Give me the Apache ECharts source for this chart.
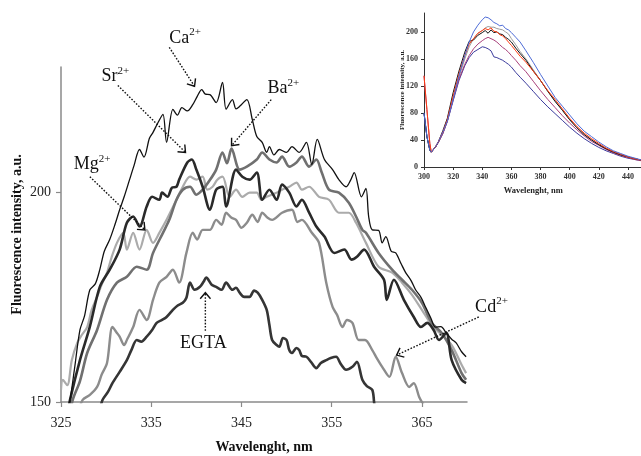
<!DOCTYPE html>
<html>
<head>
<meta charset="utf-8">
<script src="https://cdn.jsdelivr.net/npm/echarts@6/dist/echarts.min.js"></script>
<style>
html,body{margin:0;padding:0;background:#fff}
#chart{width:641px;height:456px}
</style>
</head>
<body>
<div id="chart"></div>
<script>
// ---- Main panel: emission spectra 325–370 nm, [wavelength, intensity] ----
const caSpectrum = [[325.5,146],[326.0,150.5],[326.5,158],[327.1,167.2],[327.6,170.5],[328.2,176.8],[328.8,178.2],[329.3,181.6],[329.8,186],[330.4,188.8],[331.0,192.5],[331.5,195.9],[332.0,199],[332.6,203.1],[333.1,206.5],[333.7,210.3],[334.2,208.5],[334.8,213],[335.2,214.4],[335.7,216.5],[336.3,218.7],[336.7,212],[337.4,219.9],[337.9,218.5],[338.4,220.3],[339.0,219.5],[339.6,221],[340.1,223],[340.6,224.6],[341.0,223.5],[341.5,223.4],[342.2,221.5],[342.9,226.3],[343.3,219.9],[344.0,222.2],[344.4,220],[344.8,220.6],[345.6,222.2],[346.2,217.5],[346.7,213.4],[347.3,212],[347.8,209.6],[348.1,211],[348.6,209],[349.2,210.3],[350.0,209.6],[350.6,211],[351.4,209.6],[352.2,212],[352.8,206.7],[353.4,212.7],[354.2,207.9],[355.1,205.5],[355.8,203.1],[356.6,201.4],[357.1,203],[357.5,204.8],[358.3,199],[358.8,201],[359.1,194.3],[359.5,191.1],[360.2,191],[360.6,188],[361.0,189.5],[361.6,186],[362.1,185.6],[362.7,183],[363.2,180.9],[363.8,179],[364.3,176.8],[364.9,175],[365.4,172.7],[366.0,170],[366.5,167.9],[367.1,168],[367.7,166.5],[368.3,165],[368.8,164.1],[369.4,162],[369.9,160.8]];

const srSpectrum = [[325.6,146],[326.0,150.5],[327.1,160],[328.2,168],[329.3,177.5],[330.4,181.6],[331.5,186.4],[332.3,192.8],[333.0,194.3],[333.7,191.9],[334.5,196.7],[335.1,199],[335.9,198.3],[336.2,200],[336.8,199],[337.3,201.2],[337.8,201.4],[338.1,203.1],[339.0,207.2],[339.5,207.9],[340.0,205.5],[340.7,201.4],[341.5,195.9],[342.2,200.7],[342.9,201.4],[343.3,196.7],[344.4,205.5],[345.1,203.8],[345.9,203.1],[346.7,204.8],[347.3,198.3],[348.1,200.7],[348.9,198.3],[349.5,201.9],[350.3,200],[351.1,196.7],[351.7,198.3],[352.5,195.2],[353.3,191.9],[354.2,189.5],[355.3,185.6],[356.4,186.4],[357.2,184],[357.8,184.7],[358.6,186.4],[359.7,182.3],[360.8,179.2],[361.1,174.4],[361.9,179.2],[363.0,174.4],[364.1,170.3],[364.9,167.9],[365.6,168.9],[366.3,167.2],[366.9,164.8],[367.7,166.5],[368.3,160],[369.4,155.3],[369.9,154.5]];

const baSpectrum = [[325.9,146],[326.3,150.5],[327.1,155],[327.9,161.7],[329.0,167.2],[330.1,174.4],[331.2,178.5],[332.3,179.9],[333.4,182.3],[334.5,181.6],[335.2,185.6],[336.3,190.4],[337.0,193.5],[337.8,198.3],[338.5,200.7],[339.3,201.4],[340.0,199.5],[340.7,200.7],[341.5,203],[342.2,205.5],[342.9,209.6],[343.4,207],[343.9,210.5],[344.8,205.5],[345.6,206.2],[346.7,207.9],[347.3,209.6],[348.1,207.9],[348.9,207.2],[349.5,208.6],[350.3,206.2],[351.1,207.2],[351.7,208.6],[352.5,206.2],[353.3,207.9],[353.9,204.8],[354.7,200.7],[355.8,200],[356.9,197.6],[357.7,194.3],[358.4,191.1],[358.8,190.4],[360.2,185.6],[361.7,181.6],[362.8,179.2],[363.9,176.8],[365.0,173.7],[366.1,168.9],[367.2,166.5],[368.3,162.4],[369.4,156.9],[369.9,155.3]];

const mgSpectrum = [[325.0,152.9],[325.2,155.3],[325.7,154],[326.2,160],[326.8,164.1],[327.3,166],[327.9,167.9],[328.4,172],[329.0,175.1],[329.5,178],[330.1,180.9],[330.6,184.5],[331.2,188],[331.9,190.4],[332.3,186.4],[333.0,190.4],[333.7,186.4],[334.5,191.1],[335.2,188],[335.9,190.4],[336.7,193.5],[337.8,198.3],[338.5,201.4],[339.3,203.8],[340.0,203.1],[340.7,203.8],[341.2,200.7],[341.8,201.4],[342.3,203],[342.9,203.8],[343.7,199],[344.4,200.7],[345.1,199],[345.9,200],[346.7,200],[347.2,198.3],[347.8,199],[348.9,200],[349.5,200.7],[350.3,201.4],[351.1,202.4],[351.7,200.7],[352.5,201.4],[353.6,199],[354.7,198.3],[355.8,195.2],[356.9,195.2],[357.7,192.8],[358.8,188],[360.2,182.3],[361.7,180.9],[362.8,178.5],[363.9,175.6],[365.0,172],[366.1,168.4],[367.2,166],[368.3,163.6],[369.4,158.9],[369.9,156.9]];

const cdSpectrum = [[327.0,148],[327.4,150.5],[328.2,151.7],[329.0,153.6],[329.5,156.5],[330.1,159.3],[330.7,167.9],[331.2,166.5],[331.5,165.6],[332.0,163.6],[332.3,164.8],[333.0,167.9],[333.7,172],[334.5,169.6],[335.2,174.4],[335.9,178.5],[336.7,179.9],[337.4,181.6],[338.1,178.5],[338.9,185.6],[339.6,190.4],[340.1,188.8],[340.7,191.1],[341.5,191.1],[342.2,193.5],[342.8,192.3],[343.3,195.2],[343.9,194],[344.4,193.5],[345.0,191.6],[345.6,192.8],[346.2,194.7],[346.8,193],[347.3,195.2],[347.9,194],[348.4,193.5],[349.5,195.2],[350.6,195.9],[351.2,193],[351.7,193.5],[352.8,190.4],[353.6,188],[354.4,178.5],[355.1,172.7],[355.6,170.8],[356.2,167.9],[356.7,169.6],[357.3,168.9],[358.0,164.8],[358.7,164.8],[359.5,162.4],[360.0,160.5],[360.6,158.4],[361.4,156],[362.1,160.8],[362.8,156.9],[363.6,153.6],[364.1,154.5],[364.7,151.2],[365.0,150],[365.3,149]];

const egtaSpectrum = [[329.3,148],[329.6,150.5],[330.2,152.4],[330.7,154.5],[331.5,157.2],[332.3,160],[332.8,162.4],[333.4,164.8],[333.9,164.4],[334.5,165.6],[335.1,167.2],[335.6,168.9],[336.2,169.6],[336.7,170.3],[337.4,172],[337.9,173],[338.5,173.7],[338.9,174.9],[339.3,178.5],[339.8,176.8],[340.4,177.5],[340.8,178.7],[341.1,179.7],[341.7,178],[342.2,177.5],[342.8,176.8],[343.3,178.5],[344.0,176.8],[344.4,177.3],[344.8,176.1],[345.3,175.1],[345.9,175.1],[346.4,176.6],[346.8,176.1],[347.3,174.4],[347.8,172],[348.1,168.4],[348.4,164.8],[348.9,163.6],[349.2,163.2],[349.6,165.3],[350.0,164.8],[350.3,162.4],[350.6,161.7],[351.1,162.9],[351.4,162.4],[351.7,161],[352.2,160.8],[352.7,159.6],[353.3,158.1],[353.8,159.3],[354.4,160],[354.9,160.5],[355.5,160.8],[356.0,159.1],[356.6,157.7],[357.3,158.4],[357.8,159.6],[358.4,155.3],[358.9,153.8],[359.5,152.9],[359.7,150],[359.8,148]];

const mainXTicks = [325, 335, 345, 355, 365];
const mainYTicks = [150, 200];

// ---- Inset: full spectra 300–450 nm ----
const insetX = [300,302,304,305,306,308,310,313,316,320,324,328,331,334,337,340,342,344,346,348,350,352,354,356,358,360,363,366,370,375,380,385,390,395,400,405,410,415,420,425,430,435,440,445,450];
const insetBlue    = [80,45,25,22,24,30,38,52,68,100,135,165,185,200,210,218,222,221,218,214,212,209,210,205,203,199,192,185,172,155,137,120,103,90,77,64,53,45,37,30,24,20,16,13,10];
const insetRed     = [135,85,35,22,24,30,38,52,70,105,138,165,182,190,198,202,205,203,206,201,200,196,194,190,185,180,172,164,155,142,128,113,100,86,72,60,50,42,35,28,23,19,15,12,10];
const insetBlack   = [80,45,25,22,24,30,38,54,72,110,142,170,186,188,195,199,202,198,203,199,200,197,196,192,189,185,176,168,158,142,128,112,97,84,70,58,48,40,33,27,22,18,15,12,10];
const insetGray    = [80,45,25,22,24,30,37,50,68,100,133,160,178,190,198,202,206,208,207,207,205,204,203,200,197,190,181,171,160,144,128,112,98,84,70,58,48,40,33,27,22,18,15,12,10];
const insetMagenta = [135,85,35,22,24,30,37,50,68,100,130,152,165,175,182,187,190,192,190,188,185,181,177,174,170,165,158,150,141,127,113,100,88,76,65,55,46,38,32,26,21,17,14,11,9];
const insetNavy    = [80,45,25,22,24,30,37,50,67,98,128,150,162,170,174,178,177,175,172,163,162,160,158,155,152,148,140,133,124,112,100,89,79,69,59,50,42,35,29,24,20,16,13,11,9];
const insetXTicks = [300, 320, 340, 360, 380, 400, 420, 440];
const insetYTicks = [0, 40, 80, 120, 160, 200];

// ---- Annotations (data coordinates of the main panel) ----
const notes = [
  {name: 'Ca',   sup: '2+', at: [337.0, 236.9], from: [337.0, 234.7], to: [339.8, 225.4]},
  {name: 'Sr',   sup: '2+', at: [329.5, 227.8], from: [331.3, 225.6], to: [338.8, 209.6]},
  {name: 'Ba',   sup: '2+', at: [347.9, 224.9], from: [348.3, 222.2], to: [343.9, 211.2]},
  {name: 'Mg',   sup: '2+', at: [326.4, 206.7], from: [328.2, 203.8], to: [334.3, 191.1]},
  {name: 'EGTA', sup: '',   at: [338.2, 164.1], from: [341.0, 167.0], to: [341.0, 176.1]},
  {name: 'Cd',   sup: '2+', at: [370.9, 172.7], from: [371.3, 170.3], to: [362.2, 161.2]}
];

const serif = "'Liberation Serif','Times New Roman',serif";
const chart = echarts.init(document.getElementById('chart'), null, {renderer: 'canvas'});

function zip(xs, ys) { return xs.map((x, i) => [x, ys[i]]); }

function mainLine(name, data, color, width) {
  return {name, type: 'line', xAxisIndex: 0, yAxisIndex: 0, data, symbol: 'none', smooth: 0.3,
          lineStyle: {color, width, join: 'round'}, clip: true, animation: false, silent: true};
}
function insetLine(name, ys, color) {
  return {name, type: 'line', xAxisIndex: 1, yAxisIndex: 1, data: zip(insetX, ys), symbol: 'none',
          lineStyle: {color, width: 1}, clip: true, animation: false, silent: true};
}

const axisGray = '#8a8a8a';

chart.setOption({
  backgroundColor: '#ffffff',
  animation: false,
  grid: [
    {left: 61, top: 67, width: 406, height: 335, outerBoundsMode: 'none', containLabel: false},
    {left: 424, top: 13, width: 218.5, height: 154, outerBoundsMode: 'none', containLabel: false}
  ],
  xAxis: [
    {type: 'value', gridIndex: 0, min: 325, max: 370,
     axisLine: {lineStyle: {color: axisGray, width: 1.5}},
     axisTick: {show: true, length: 5, customValues: mainXTicks, lineStyle: {color: axisGray, width: 1.2}},
     axisLabel: {customValues: mainXTicks, fontFamily: serif, fontSize: 14, color: '#222', margin: 14},
     splitLine: {show: false},
     name: 'Wavelenght, nm', nameLocation: 'middle', nameGap: 38, nameMoveOverlap: false,
     nameTextStyle: {fontFamily: serif, fontSize: 14, fontWeight: 'bold', color: '#111'}},
    {type: 'value', gridIndex: 1, min: 300, max: 450,
     axisLine: {lineStyle: {color: '#333', width: 1}},
     axisTick: {show: true, length: 3, customValues: insetXTicks, lineStyle: {color: '#333'}},
     axisLabel: {customValues: insetXTicks, fontFamily: serif, fontSize: 8, fontWeight: 'bold', color: '#333', margin: 6},
     splitLine: {show: false},
     name: 'Wavelenght, nm', nameLocation: 'middle', nameGap: 19, nameMoveOverlap: false,
     nameTextStyle: {fontFamily: serif, fontSize: 8.5, fontWeight: 'bold', color: '#222'}}
  ],
  yAxis: [
    {type: 'value', gridIndex: 0, min: 150, max: 230,
     axisLine: {show: true, lineStyle: {color: axisGray, width: 1.5}},
     axisTick: {show: true, length: 5, customValues: mainYTicks, lineStyle: {color: axisGray, width: 1.2}},
     axisLabel: {customValues: mainYTicks, fontFamily: serif, fontSize: 14, color: '#222', margin: 10},
     splitLine: {show: false},
     name: 'Fluorescence intensity, a.u.', nameLocation: 'middle', nameGap: 37, nameMoveOverlap: false,
     nameTextStyle: {fontFamily: serif, fontSize: 14, fontWeight: 'bold', color: '#111'}},
    {type: 'value', gridIndex: 1, min: 0, max: 228,
     axisLine: {show: true, lineStyle: {color: '#333', width: 1}},
     axisTick: {show: true, length: 3, customValues: insetYTicks, lineStyle: {color: '#333'}},
     axisLabel: {customValues: insetYTicks, fontFamily: serif, fontSize: 8, fontWeight: 'bold', color: '#333', margin: 6},
     splitLine: {show: false},
     name: 'Fluorescence intensity, a.u.', nameLocation: 'middle', nameGap: 18, nameMoveOverlap: false,
     nameTextStyle: {fontFamily: serif, fontSize: 7, fontWeight: 'bold', color: '#222'}}
  ],
  series: [
    mainLine('Mg2+', mgSpectrum, '#ababab', 2.2),
    mainLine('Cd2+', cdSpectrum, '#8c8c8c', 2.4),
    mainLine('Ba2+', baSpectrum, '#707070', 2.6),
    mainLine('EGTA', egtaSpectrum, '#353535', 2.6),
    mainLine('Sr2+', srSpectrum, '#2a2a2a', 2.6),
    mainLine('Ca2+', caSpectrum, '#111111', 1.3),
    insetLine('gray', insetGray, '#9a9a9a'),
    insetLine('navy', insetNavy, '#3b3b9c'),
    insetLine('magenta', insetMagenta, '#a8407a'),
    insetLine('black', insetBlack, '#111111'),
    insetLine('red', insetRed, '#ff3a10'),
    insetLine('blue', insetBlue, '#4d6bd6')
  ]
});

// Dotted arrows and ion labels, positioned through the main panel's axes
function drawNotes() {
  const toPx = p => chart.convertToPixel({xAxisIndex: 0, yAxisIndex: 0}, p);
  const els = [];
  notes.forEach(n => {
    const s = toPx(n.from), e = toPx(n.to), t = toPx(n.at);
    els.push({type: 'line', z: 100, silent: true,
      shape: {x1: s[0], y1: s[1], x2: e[0], y2: e[1]},
      style: {stroke: '#111', lineWidth: 1.4, lineDash: [1.6, 1.6]}});
    const ang = Math.atan2(e[1] - s[1], e[0] - s[0]);
    const L = 8, w = 0.7;
    els.push({type: 'polyline', z: 100, silent: true,
      shape: {points: [
        [e[0] - L * Math.cos(ang - w), e[1] - L * Math.sin(ang - w)],
        [e[0], e[1]],
        [e[0] - L * Math.cos(ang + w), e[1] - L * Math.sin(ang + w)]]},
      style: {stroke: '#111', lineWidth: 1.4, fill: null}});
    els.push({type: 'text', z: 101, silent: true, x: t[0], y: t[1],
      style: {
        text: n.sup ? '{m|' + n.name + '}{s|' + n.sup + '}' : '{m|' + n.name + '}',
        align: 'left', verticalAlign: 'middle',
        rich: {
          m: {fontFamily: serif, fontSize: 18, fill: '#111', lineHeight: 22},
          s: {fontFamily: serif, fontSize: 11, fill: '#111', lineHeight: 12, verticalAlign: 'top'}
        }
      }});
  });
  chart.setOption({graphic: els});
}
drawNotes();
</script>
</body>
</html>
